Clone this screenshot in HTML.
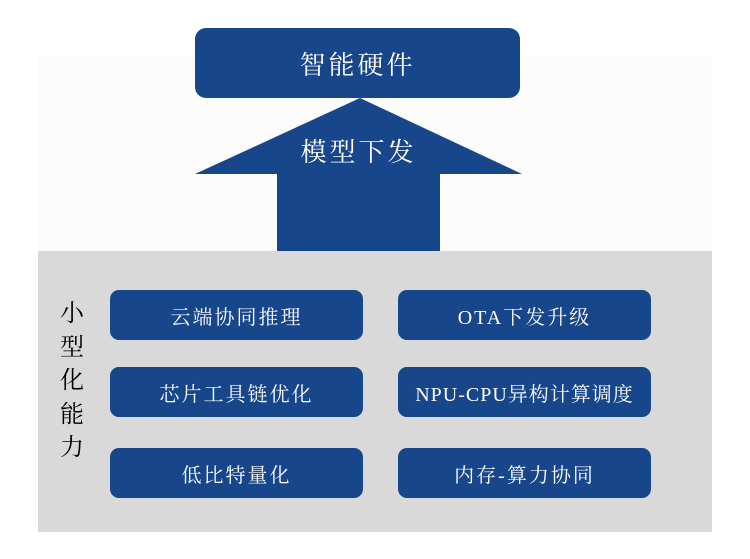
<!DOCTYPE html>
<html><head><meta charset="utf-8"><style>
body{margin:0;width:750px;height:559px;background:#fff;position:relative;overflow:hidden;font-family:"Liberation Serif","Noto Serif CJK SC",serif}
.a{position:absolute}
.b{position:absolute;background:#17468a;border-radius:9px;color:#fff;font-size:20px;display:flex;align-items:center;justify-content:center;letter-spacing:2px}
</style></head><body>
<div class="a" style="left:38px;top:57px;width:674px;height:194px;background:#fcfcfc"></div>
<div class="a" style="left:38px;top:251px;width:674px;height:281px;background:#d9d9d9"></div>
<svg class="a" style="left:0;top:0" width="750" height="559"><polygon points="360,98 522,174 440,174 440,251 277,251 277,174 195,174" fill="#17468a"/></svg>
<div class="b" style="left:195px;top:28px;width:325px;height:70px;border-radius:11px;font-size:26px;letter-spacing:3px">智能硬件</div>
<div class="a" style="left:277px;top:132px;width:163px;text-align:center;color:#fff;font-size:26px;letter-spacing:3px">模型下发</div>
<div class="a" style="left:58px;top:298px;width:28px;font-size:24px;line-height:33.5px;text-align:center;color:#000">小<br>型<br>化<br>能<br>力</div>
<div class="b" style="left:110px;top:290px;width:253px;height:50px">云端协同推理</div>
<div class="b" style="left:398px;top:290px;width:253px;height:50px">OTA下发升级</div>
<div class="b" style="left:110px;top:367px;width:253px;height:50px">芯片工具链优化</div>
<div class="b" style="left:398px;top:367px;width:253px;height:50px;letter-spacing:1px">NPU-CPU异构计算调度</div>
<div class="b" style="left:110px;top:448px;width:253px;height:50px">低比特量化</div>
<div class="b" style="left:398px;top:448px;width:253px;height:50px">内存-算力协同</div>
</body></html>
